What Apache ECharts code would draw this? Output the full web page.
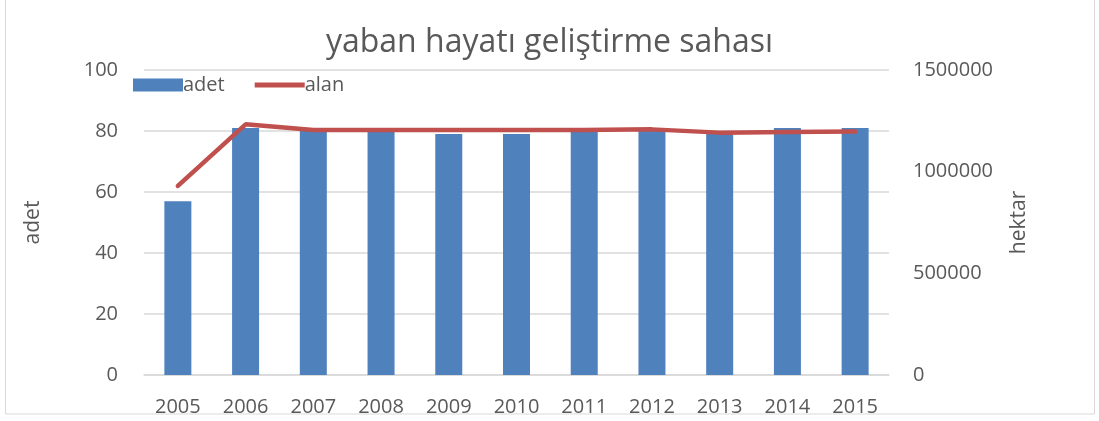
<!DOCTYPE html>
<html><head><meta charset="utf-8">
<script src="https://cdn.jsdelivr.net/npm/echarts@6/dist/echarts.min.js"></script>
<style>html,body{margin:0;padding:0;background:#fff}#c{width:1099px;height:421px}</style>
</head><body><div id="c"></div>
<script>
const years = ['2005','2006','2007','2008','2009','2010','2011','2012','2013','2014','2015'];
const adet = [57, 81, 80, 80, 79, 79, 80, 80, 79, 81, 81];
const alan = [930000, 1233000, 1205000, 1205000, 1205000, 1205000, 1205000, 1208000, 1192000, 1195000, 1197000];
const leftTicks = [0, 20, 40, 60, 80, 100];
const rightTicks = [0, 500000, 1000000, 1500000];

const FONT = '"Open Sans",sans-serif';
const chart = echarts.init(document.getElementById('c'));
chart.setOption({
  animation: false,
  textStyle: {fontFamily: FONT},
  graphic: [{type:'rect', shape:{x:5.5,y:-2,width:1089,height:416}, style:{fill:'none', stroke:'#d9d9d9', lineWidth:1}}],
  title: {text: 'yaban hayatı geliştirme sahası', left: 'center', top: 22,
    textStyle: {fontFamily: FONT, fontSize: 32, fontWeight: 'normal', color: '#595959'}},
  legend: {left: 128, top: 70, itemGap: 30, itemWidth: 50, itemHeight: 13,
    textStyle: {fontFamily: FONT, fontSize: 20, color: '#595959', padding:[0,0,0,-5]},
    data: [{name:'adet', icon:'rect'}, {name:'alan', icon:'path://M0,0 L10,0 L10,1 L0,1 Z', itemStyle:{color:'#C0504D'}}]},
  grid: {left: 144, right: 210, top: 70, bottom: 46},
  xAxis: {type: 'category', data: years,
    axisLine: {lineStyle: {color: '#d9d9d9', width: 1.5}}, axisTick: {show: false},
    axisLabel: {fontFamily: FONT, fontSize: 20, color: '#595959', margin: 22}},
  yAxis: [
    {type: 'value', min: 0, max: 100, interval: 20, name: 'adet', nameLocation: 'middle', nameGap: 100,
      nameTextStyle: {fontFamily: FONT, fontSize: 21, color: '#595959'},
      axisLine: {show: false}, axisTick: {show: false},
      axisLabel: {fontFamily: FONT, fontSize: 20, color: '#595959', margin: 26,
        formatter: v => leftTicks.includes(v) ? String(v) : ''},
      splitLine: {lineStyle: {color: '#d9d9d9', width: 1.5}}},
    {type: 'value', min: 0, max: 1500000, interval: 500000, name: 'hektar', nameLocation: 'middle', nameGap: 120,
      nameTextStyle: {fontFamily: FONT, fontSize: 21, color: '#595959'},
      axisLine: {show: false}, axisTick: {show: false},
      axisLabel: {fontFamily: FONT, fontSize: 20, color: '#595959', margin: 24,
        formatter: v => rightTicks.includes(v) ? String(v) : ''},
      splitLine: {show: false}}
  ],
  series: [
    {name: 'adet', type: 'bar', data: adet, barWidth: 27, itemStyle: {color: '#4F81BD'}},
    {name: 'alan', type: 'line', yAxisIndex: 1, data: alan, symbol: 'none',
      lineStyle: {color: '#C0504D', width: 4.5, cap: 'round'}, itemStyle: {color: '#C0504D'}}
  ]
});
</script></body></html>
